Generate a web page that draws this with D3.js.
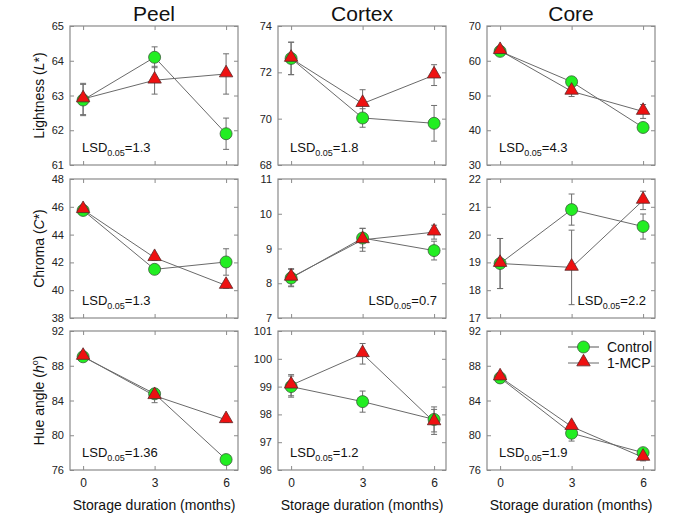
<!DOCTYPE html>
<html><head><meta charset="utf-8">
<script src="https://cdn.jsdelivr.net/npm/d3@7"></script>
<style>body{margin:0;background:#fff}svg{display:block;font-family:"Liberation Sans",Arial,sans-serif}</style>
</head><body>
<script>
const months = [0, 3, 6];
const tissues = ["Peel", "Cortex", "Core"];
const seriesNames = ["Control", "1-MCP"];

// Lightness (L*) per tissue: Peel, Cortex, Core
const lightControl = [[62.87, 64.1, 61.9], [72.6, 70.03, 69.8], [62.7, 53.95, 40.8]];
const lightControlSE = [[0.45, 0.3, 0.45], [0.7, 0.4, 0.77], [0.9, 0.9, 1.0]];
const lightMCP = [[62.9, 63.44, 63.62], [72.6, 70.65, 71.88], [62.9, 51.2, 45.4]];
const lightMCPSE = [[0.45, 0.4, 0.58], [0.7, 0.6, 0.45], [0.9, 1.5, 2.0]];
const lightDomains = [[61, 65], [68, 74], [30, 70]];
const lightTicks = [[61, 62, 63, 64, 65], [68, 70, 72, 74], [30, 40, 50, 60, 70]];
const lightLSD = ["1.3", "1.8", "4.3"];

// Chroma (C*)
const chromaControl = [[45.74, 41.5, 42.03], [8.15, 9.3, 8.94], [18.96, 20.9, 20.29]];
const chromaControlSE = [[0.2, 0.2, 0.95], [0.25, 0.28, 0.27], [0.9, 0.56, 0.45]];
const chromaMCP = [[45.79, 42.34, 40.34], [8.17, 9.25, 9.47], [18.96, 18.82, 21.23]];
const chromaMCPSE = [[0.2, 0.2, 0.2], [0.25, 0.33, 0.2], [0.9, 1.34, 0.33]];
const chromaDomains = [[38, 48], [7, 11], [17, 22]];
const chromaTicks = [[38, 40, 42, 44, 46, 48], [7, 8, 9, 10, 11], [17, 18, 19, 20, 21, 22]];
const chromaLSD = ["1.3", "0.7", "2.2"];

// Hue angle (h°)
const hueControl = [[89.03, 84.77, 77.2], [99.0, 98.46, 97.82], [86.6, 80.23, 78.0]];
const hueControlSE = [[0.3, 0.4, 0.3], [0.38, 0.38, 0.45], [0.4, 0.9, 0.4]];
const hueMCP = [[89.07, 84.55, 81.78], [99.05, 100.18, 97.73], [86.7, 81.0, 77.45]];
const hueMCPSE = [[0.3, 0.8, 0.3], [0.38, 0.37, 0.45], [0.4, 0.4, 0.4]];
const hueDomains = [[76, 92], [96, 101], [76, 92]];
const hueTicks = [[76, 80, 84, 88, 92], [96, 97, 98, 99, 100, 101], [76, 80, 84, 88, 92]];
const hueLSD = ["1.36", "1.2", "1.9"];

const rows = [
  {label: ["Lightness (", "L", "*)"], c: lightControl, cse: lightControlSE, m: lightMCP, mse: lightMCPSE, dom: lightDomains, ticks: lightTicks, lsd: lightLSD, lsdPos: ["l", "l", "l"]},
  {label: ["Chroma (", "C", "*)"], c: chromaControl, cse: chromaControlSE, m: chromaMCP, mse: chromaMCPSE, dom: chromaDomains, ticks: chromaTicks, lsd: chromaLSD, lsdPos: ["l", "r", "r"]},
  {label: ["Hue angle (", "h", "°)"], c: hueControl, cse: hueControlSE, m: hueMCP, mse: hueMCPSE, dom: hueDomains, ticks: hueTicks, lsd: hueLSD, lsdPos: ["l", "l", "l"]}
];

const W = 685, H = 520;
const colX = [70, 278, 487], rowY = [26, 179, 331];
const pw = 168, ph = 139;
const frameColor = "#8a8a8a", lineColor = "#6a6a6a", errColor = "#6e6e6e";
const green = "#22ee22", red = "#ee1111";

const svg = d3.select("body").append("svg").attr("width", W).attr("height", H);

// Titles
tissues.forEach((t, j) => {
  svg.append("text").attr("x", colX[j] + pw / 2).attr("y", 21).attr("text-anchor", "middle")
    .attr("font-size", 21).attr("fill", "#111").text(t);
});

const tri = d3.symbol().type(d3.symbolTriangle).size(78);

rows.forEach((row, i) => {
  tissues.forEach((t, j) => {
    const g = svg.append("g").attr("transform", `translate(${colX[j]},${rowY[i]})`);
    const x = d3.scaleLinear().domain([-0.55, 6.5]).range([0, pw]);
    const y = d3.scaleLinear().domain(row.dom[j]).range([ph, 0]);

    // frame
    g.append("rect").attr("width", pw).attr("height", ph).attr("fill", "none")
      .attr("stroke", frameColor).attr("stroke-width", 1.2);

    // left axis
    const ay = g.append("g").call(d3.axisLeft(y).tickValues(row.ticks[j]).tickSize(-4).tickPadding(6).tickFormat(d3.format("d")));
    ay.select(".domain").remove();
    ay.selectAll("line").attr("stroke", frameColor);
    ay.selectAll("text").attr("font-size", 11).attr("fill", "#222").attr("font-family", "Liberation Sans, Arial, sans-serif");
    // right ticks
    const ayr = g.append("g").attr("transform", `translate(${pw},0)`).call(d3.axisRight(y).tickValues(row.ticks[j]).tickSize(-4).tickFormat(""));
    ayr.select(".domain").remove();
    ayr.selectAll("line").attr("stroke", frameColor);
    // bottom ticks
    const ax = g.append("g").attr("transform", `translate(0,${ph})`).call(d3.axisBottom(x).tickValues(months).tickSize(-4).tickPadding(8).tickFormat(d3.format("d")));
    ax.select(".domain").remove();
    ax.selectAll("line").attr("stroke", frameColor);
    ax.selectAll("text").attr("font-size", 12).attr("fill", "#222").attr("font-family", "Liberation Sans, Arial, sans-serif");
    if (i < 2) ax.selectAll("text").remove();
    const axt = g.append("g").call(d3.axisTop(x).tickValues(months).tickSize(-4).tickFormat(""));
    axt.select(".domain").remove();
    axt.selectAll("line").attr("stroke", frameColor);

    const series = [
      {v: row.c[j], se: row.cse[j], shape: "circle", fill: green},
      {v: row.m[j], se: row.mse[j], shape: "tri", fill: red}
    ];
    // error bars
    series.forEach(s => {
      const eb = g.append("g").attr("stroke", errColor).attr("stroke-width", 1);
      months.forEach((mo, k) => {
        const cx = x(mo), y1 = y(s.v[k] + s.se[k]), y2 = y(s.v[k] - s.se[k]);
        eb.append("line").attr("x1", cx).attr("x2", cx).attr("y1", y1).attr("y2", y2);
        eb.append("line").attr("x1", cx - 3).attr("x2", cx + 3).attr("y1", y1).attr("y2", y1);
        eb.append("line").attr("x1", cx - 3).attr("x2", cx + 3).attr("y1", y2).attr("y2", y2);
      });
    });
    // lines
    const lineGen = d3.line().x((d, k) => x(months[k])).y(d => y(d));
    series.forEach(s => {
      g.append("path").attr("d", lineGen(s.v)).attr("fill", "none").attr("stroke", lineColor).attr("stroke-width", 1);
    });
    // markers
    series.forEach(s => {
      months.forEach((mo, k) => {
        if (s.shape === "circle") {
          g.append("circle").attr("cx", x(mo)).attr("cy", y(s.v[k])).attr("r", 6)
            .attr("fill", s.fill).attr("stroke", "#3a5a3a").attr("stroke-width", 0.8);
        } else {
          g.append("path").attr("d", tri).attr("transform", `translate(${x(mo)},${y(s.v[k]) - 1})`)
            .attr("fill", s.fill).attr("stroke", "#5a2a2a").attr("stroke-width", 0.8);
        }
      });
    });

    // LSD
    const right = row.lsdPos[j] === "r";
    const tx = g.append("text").attr("x", right ? pw - 9 : 12).attr("y", ph - 13)
      .attr("text-anchor", right ? "end" : "start").attr("font-size", 13).attr("fill", "#111");
    tx.append("tspan").text("LSD");
    tx.append("tspan").attr("font-size", 9).attr("dy", 4).text("0.05");
    tx.append("tspan").attr("dy", -4).text("=" + row.lsd[j]);

    // y label
    if (j === 0) {
      const lab = svg.append("text").attr("transform", `translate(${44},${rowY[i] + ph / 2}) rotate(-90)`)
        .attr("text-anchor", "middle").attr("font-size", 14).attr("fill", "#111");
      lab.append("tspan").text(row.label[0]);
      lab.append("tspan").attr("font-style", "italic").text(row.label[1]);
      if (row.label[2] === "°)") {
        lab.append("tspan").attr("font-size", 9).attr("dy", -6).text("o");
        lab.append("tspan").attr("dy", 6).text(")");
      } else {
        lab.append("tspan").text(row.label[2]);
      }
    }
    // x label
    if (i === 2) {
      svg.append("text").attr("x", colX[j] + pw / 2).attr("y", rowY[i] + ph + 40).attr("text-anchor", "middle")
        .attr("font-size", 14).attr("fill", "#111").text("Storage duration (months)");
    }
    // legend
    if (i === 2 && j === 2) {
      const lg = g.append("g").attr("transform", `translate(${pw - 87},16)`);
      seriesNames.forEach((nm, k) => {
        const ly = k * 16;
        lg.append("line").attr("x1", 0).attr("x2", 31).attr("y1", ly).attr("y2", ly).attr("stroke", k === 0 ? "#aaa" : lineColor).attr("stroke-width", k === 0 ? 2 : 1);
        if (k === 0) lg.append("circle").attr("cx", 15.5).attr("cy", ly).attr("r", 6).attr("fill", green).attr("stroke", "#3a5a3a").attr("stroke-width", 0.8);
        else lg.append("path").attr("d", tri).attr("transform", `translate(15.5,${ly - 1})`).attr("fill", red).attr("stroke", "#5a2a2a").attr("stroke-width", 0.8);
        lg.append("text").attr("x", 39).attr("y", ly + 5).attr("font-size", 14).attr("fill", "#111").text(nm);
      });
    }
  });
});
</script>
</body></html>
